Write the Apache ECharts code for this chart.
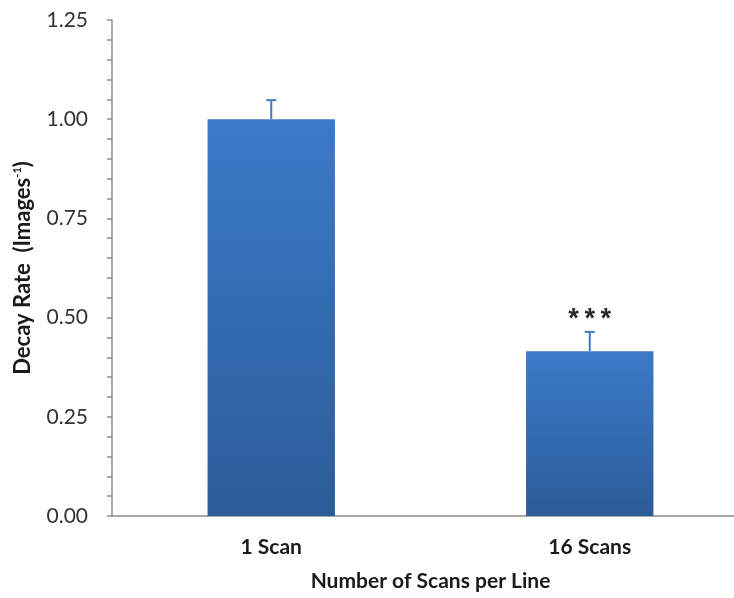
<!DOCTYPE html>
<html>
<head>
<meta charset="utf-8">
<style>
  html, body { margin: 0; padding: 0; background: #ffffff; }
  #chart { width: 734px; height: 598px; }
</style>
<script src="https://cdn.jsdelivr.net/npm/echarts@6/dist/echarts.min.js"></script>
</head>
<body>
<div id="chart"></div>
<script>
// Decay rate per scan mode, with standard error and significance marks
const categories = ['1 Scan', '16 Scans'];
const decayRate = [1.00, 0.415];
const errors = [0.048, 0.049];
const significance = ['', '***'];
const yTicks = [0, 0.25, 0.5, 0.75, 1.0, 1.25];

const chart = echarts.init(document.getElementById('chart'), null, { renderer: 'canvas' });

const errorData = categories.map((c, i) => [i, decayRate[i], errors[i]]);
const axisGray = '#8c8c8c';
const textFont = 'Lato';

chart.setOption({
  animation: false,
  backgroundColor: '#ffffff',
  grid: {
    left: 112, top: 20, width: 637, height: 496,
    containLabel: false,
    outerBoundsMode: 'none'
  },
  xAxis: {
    type: 'category',
    data: categories,
    axisLine: { show: true, lineStyle: { color: axisGray, width: 1.5 } },
    axisTick: { show: false },
    axisLabel: {
      margin: 21,
      color: '#1a1a1a',
      fontFamily: textFont,
      fontWeight: 'bold',
      fontSize: 21
    },
    name: 'Number of Scans per Line',
    nameLocation: 'middle',
    nameGap: 55,
    nameTextStyle: {
      color: '#1a1a1a',
      fontFamily: textFont,
      fontWeight: 'bold',
      fontSize: 21
    }
  },
  yAxis: {
    type: 'value',
    min: yTicks[0],
    max: yTicks[yTicks.length - 1],
    interval: 0.25,
    axisLine: { show: true, lineStyle: { color: axisGray, width: 1.5 } },
    axisTick: { show: true, inside: false, length: 5, lineStyle: { color: axisGray, width: 1.5 } },
    minorTick: { show: true, splitNumber: 5, length: 5, lineStyle: { color: axisGray, width: 1.5 } },
    splitLine: { show: false },
    axisLabel: {
      margin: 24,
      color: '#333333',
      fontFamily: textFont,
      fontSize: 21,
      formatter: v => v.toFixed(2)
    },
    name: '{t|Decay Rate  (Images}{s|-1}{t|)}',
    nameLocation: 'middle',
    nameGap: 78,
    nameTextStyle: {
      rich: {
        t: { color: '#1a1a1a', fontFamily: textFont, fontWeight: 'bold', fontSize: 22 },
        s: { color: '#1a1a1a', fontFamily: textFont, fontWeight: 'bold', fontSize: 11, verticalAlign: 'top', padding: [0, 0, 10, 0] }
      }
    }
  },
  series: [
    {
      type: 'bar',
      data: decayRate,
      barWidth: '40%',
      itemStyle: {
        color: new echarts.graphic.LinearGradient(0, 0, 0, 1, [
          { offset: 0, color: '#3b7ac9' },
          { offset: 1, color: '#2c5c98' }
        ])
      }
    },
    {
      type: 'custom',
      data: errorData,
      encode: { x: 0, y: 1 },
      z: 3,
      renderItem: function (params, api) {
        const idx = api.value(0);
        const val = api.value(1);
        const err = api.value(2);
        const mark = significance[params.dataIndex];
        const base = api.coord([idx, val]);
        const top = api.coord([idx, val + err]);
        const capHalf = 5;
        const stroke = { stroke: '#4479bd', lineWidth: 2 };
        const children = [
          { type: 'line', shape: { x1: base[0], y1: base[1], x2: top[0], y2: top[1] }, style: stroke },
          { type: 'line', shape: { x1: top[0] - capHalf, y1: top[1], x2: top[0] + capHalf, y2: top[1] }, style: stroke }
        ];
        if (mark) {
          children.push({
            type: 'text',
            style: {
              text: mark,
              x: top[0],
              y: top[1] - 11,
              align: 'center',
              verticalAlign: 'middle',
              fill: '#2a2a2a',
              font: 'bold 27px "Liberation Mono"'
            }
          });
        }
        return { type: 'group', children: children };
      }
    }
  ]
});
</script>
</body>
</html>
